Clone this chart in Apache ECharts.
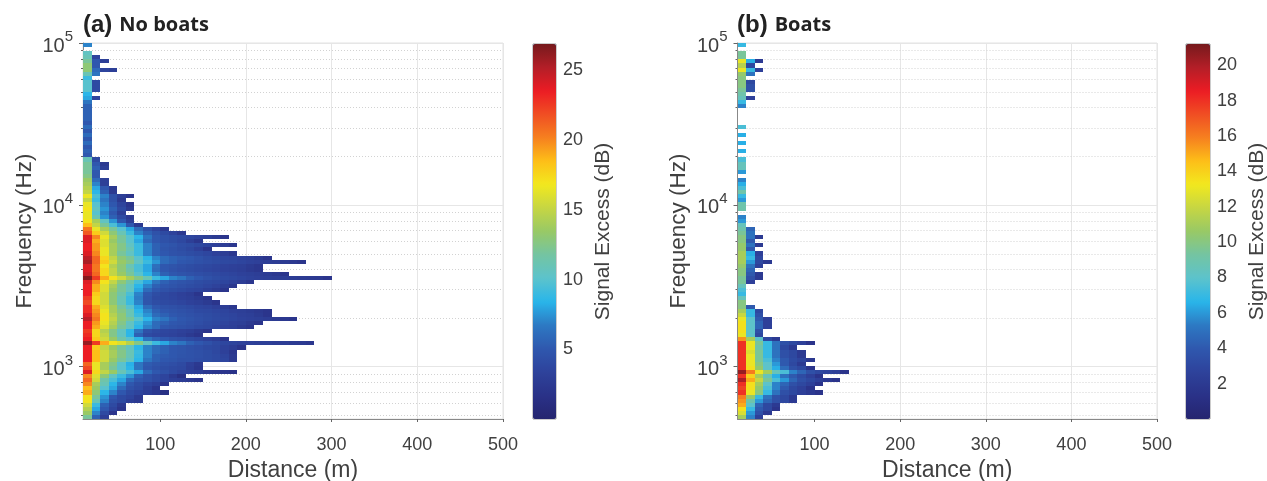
<!DOCTYPE html>
<html><head><meta charset="utf-8">
<style>html,body{margin:0;padding:0;background:#fff}#c{width:1267px;height:481px}</style>
<script src="https://cdn.jsdelivr.net/npm/echarts@6/dist/echarts.min.js"></script>
</head><body><div id="c"></div>
<script>
const rowEdgesHz = [475,503,534,566,599,635,673,714,756,802,849,900,
954,1011,1072,1136,1204,1276,1353,1433,1519,1610,1707,1809,
1917,2032,2153,2283,2419,2564,2717,2880,3052,3235,3429,3634,
3852,4082,4326,4586,4860,5151,5459,5786,6132,6499,6889,7301,
7739,8201,8692,9213,9764,10349,10968,11625,12320,13057,13841,14668,
15548,16476,17463,18509,19617,20792,22036,23356,24753,26233,27808,29470,
31237,33102,35085,37187,39412,41772,44271,46923,49731,52706,55870,59208,
62757,66505,70490,74714,79185,83923,88947,94278,100000];
const minorTicksHz = [500,600,700,800,900,2000,3000,4000,5000,6000,7000,8000,9000,20000,30000,40000,50000,60000,70000,80000,90000];
const distanceTicks = [100,200,300,400,500];
const noBoatsColorTicks = [5,10,15,20,25];
const boatsColorTicks = [2,4,6,8,10,12,14,16,18,20];
const colormap = ['#25256f','#2a3288','#2e429b','#2f58ae','#2d79c3','#29b5ea','#5cc3cc','#74c4a2','#98c966','#c6d643','#f2e81e','#fdbf18','#f6801f','#f04e23','#ec1c24','#b31e27','#761a1c'];
// each row: signal excess (dB) in 10 m distance bins starting at 10 m; bottom row first
const noBoatsRows = [
[12,5.5,3],
[13.5,7,4,2],
[14.5,8,5,3.5,2],
[15.5,9,5.5,4,2.5],
[17,11,7,4.5,4,3,2.5],
[17,12,7.5,5,4,3.5,2.5],
[19,13,8.5,7,5,4,3.5,3,2.5,1.5],
[18.5,13.5,10,8,6,4.5,4,3,2],
[20,14,11,8.5,7,5,4.2,3.5,3,2],
[21,15.5,11.5,9.5,8,6,5,4.5,4,3.5,3,2.8,2.5,2],
[20,16,13,10.5,9,7.5,5.5,4.5,4,3.5,2.5,1.5],
[24,17.5,15,13.5,11,9.5,8,6,5,4.5,4,3.5,3.3,3,2.5,2.2,2,1.8],
[22,16.5,14,12,10,8.5,6.5,5,4.5,4.2,4,3.8,3,2.2],
[21,16.5,14,12.5,10,8.3,6.5,5.2,4.8,4.5,4.3,4,3.2,2.4],
[23.5,18.5,15.5,13.5,12,10.5,8.5,6.5,5.5,5,4.8,4.5,4.5,4.3,4.2,4,3.7,2.5],
[23.5,18.5,15.5,14,12.5,11,8.8,7,5.5,5.2,5,4.7,4.6,4.4,4.2,4,3.5,2.5],
[23.5,18.5,15.5,14,12.5,11,9,7,6,5.5,5,4.8,4.6,4.4,4.2,3.8,3.2,2.2],
[23.5,18,15,13.5,12,10.5,8.5,7,6,5.5,5,4.8,4.5,4.3,4,3.8,3.3,2.8,2],
[26,22.5,19,17,16,14.5,12.5,10.5,9,8,7,6.5,5.5,5,4.5,4,3.7,3.5,3.3,3.2,3,3,2.8,2.8,2.6,2.5,2.2],
[23.5,18,15.5,13.5,11.5,10,8.5,6.5,5.5,5,4.5,4.3,4,3.7,3.3,2.8,2],
[23,17.5,15,12.5,10.5,8.5,5.5,4,3.7,3.5,3.4,3,2.5,2],
[22.5,17.5,14.5,12.5,10.5,8.5,6.5,4.5,4,3.7,3.5,3.3,3,2.5,2],
[23.5,19,16,14,12,10.5,8.5,7,6,5,4.7,4.5,4.3,4,3.8,3.5,3.2,3,2.5,2],
[23.5,19.5,16.5,14.5,12.5,10.5,9,7.5,6,5.5,5,4.8,4.5,4.3,4,3.8,3.5,3.2,3,2.5,2],
[25,20.5,17,15,13,12,10,8.5,7,6.5,5.5,5,4.7,4.4,4.2,4,3.8,3.6,3.4,3.2,3,2.8,2.6,2.3,2],
[24,20,17,14.5,13,11,9,7.5,6,5.5,5,4.7,4.5,4.3,4.1,3.9,3.7,3.5,3.2,3,2.6,2],
[23,19.5,16.5,14,12.5,11,8.5,7,5.5,5,4.7,4.5,4.3,4,3.9,3.7,3.5,3.2,3,2.7,2.4,2],
[23,19,16,14,12,10,8,6,5,4.6,4.4,4.2,4,3.7,3.5,3.2,2.8,2.2],
[22,17.5,15.5,13,11,9,7,4.8,4.2,4,3.8,3.6,3.3,3,2.6,2],
[22.5,17.5,15.5,13,11,9,6.8,4.8,4,3.8,3.6,3.3,3,2.6,2],
[23.5,18,15.5,13,11.5,9.5,7,5,4.2,3.8,3.5,3.2,2.8,2],
[23.5,19,16,13.5,12,10.5,8,6,5,4.5,4.2,4,3.7,3.5,3,2.6,2],
[23.5,19,16,14,12,10.5,8.5,7,5.5,5,4.7,4.4,4.2,4,3.7,3.4,2.9,2.2],
[24,20,17,15,13,11.5,9.5,8,6.5,5.5,5,4.7,4.5,4.2,4,3.8,3.6,3.3,2.8,2.2],
[26.5,22.5,19,17,15.5,14,12.5,11,9,8,7,6.5,5.5,5,4.5,4.2,4,3.8,3.6,3.4,3.2,3,2.9,2.8,2.7,2.6,2.5,2.4,2],
[24.5,21,17.5,15,13.5,12,10,8.5,7,5.5,5,4.7,4.5,4.3,4.1,3.9,3.7,3.5,3.3,3.1,2.9,2.7,2.4,2],
[24,20.5,17.5,15,13,11.5,9.5,8,6,5,4.6,4.3,4.1,3.9,3.7,3.5,3.3,3.1,2.9,2.5,2.2],
[24,20.5,17,14.5,13,11,9.5,8,6.2,5,4.7,4.4,4.2,4,3.8,3.6,3.4,3.2,3,2.6,2.2],
[25.5,21,18,15.5,13.5,12.5,10.5,9,7.5,6,5.5,5,4.8,4.5,4.3,4.1,3.9,3.8,3.6,3.4,3.2,3,2.8,2.6,2.4,2],
[25,21,17.5,15,13,12,10,8.5,7,6,5.5,5.2,5,4.6,4.2,4,3.7,3.5,3.3,3,2.6,2],
[24,20,16.5,14,12,10.5,9,7,5.5,5,4.6,4.4,4.2,4,3.7,3.3,2.8,2.2],
[23.5,19.5,16.5,14,12.5,11,9,7,5.5,4.8,4.5,4.2,3.8,3.2,2],
[23.5,19.5,16,14,12.5,10.5,9,7,5.5,5,4.7,4.3,4.1,3.8,3.5,3.2,2.8,2.2],
[24,19,16,13.5,12,10,8,6,5,4.5,4.2,3.8,3,2.2],
[24,20,16.5,14,12,10,8.5,6.5,5,4.5,4.2,4,3.7,3.4,3,2.6,2],
[21.5,18,15.5,13,11,9,7,5.5,4.6,4,3.4,2.4],
[20.5,16.5,14,12,10,8,6,4.5,3.5,2.5],
[18.5,15,12,9.5,7.5,5,2.5],
[17,14,10.5,7.5,5,3],
[16.5,11,7.5,5.5,4,2.5],
[16.5,10,7,5,3],
[17,10.5,7.5,5.5,4,2.5],
[16.5,10,7,5,3.5,2],
[15,9,6.5,4.5,2.5],
[16.5,9.5,7,4.5,3,2],
[15,8.5,5.5,2.5],
[14.5,8,5,2.5],
[14,7,3],
[13.5,6,3],
[12.5,5],
[12,5],
[12,5.5,3],
[12,5,2.5],
[11,4],
[5],[5.5],[5],[6],[5],[6],[5],[6],[5],[5.5],[5.5],[5.5],[5.5],
[6.5],
[8,3.5],
[8.5],
[10,4],[10,4],[10,4],
[9],
[11,6.5],
[13,6,3.5,3],
[13,5],
[12,5,3],
[11,3.5],
[10.5],
[],
[7]
];
const boatsRows = [
[11,5.5,2.5],
[12.5,6,3.5,2],
[13.5,7,4,3,1.5],
[15,8,4.5,3,2],
[15.5,9,6,4.5,3.5,3,2],
[16,10.5,7,5,3.5,3,2],
[18,13,10,7,5,3.5,3,2.5,2,1.5],
[17.5,13.5,10.5,7.5,5.5,4,3,2.5,1.5],
[18,13.5,11,8,5.5,4.5,3.5,3,2.5,1.5],
[20,15,12,9.5,7.5,6,4.5,3.5,3,2.5,2,1.5],
[18,14,11,8.5,6.5,5,4,3.2,2.5,1.5],
[20.5,16,13,11,8.5,7.5,5.5,4.5,3.5,3,2.8,2.5,1.5],
[18,13.5,10.5,8,6.5,4.8,3.5,3,1.5],
[18,13,10,8,6,4,3,2],
[18,13,9.5,7.5,5.5,4,3.2,2.8,1.8],
[18,13,9.5,7,5,3.5,3,2],
[18,12.5,9.5,7,5,3.5,3,2],
[18,13,9,7,5,3,2],
[18,13,9.5,7,5,3.5,3,2.5,1.5],
[15.5,11,8,3,2],
[13,8,3],
[13.5,8,3.5],
[13.5,8,4.5,2.5],
[13.5,8,4.5,2.5],
[13,8,4,2.5],
[12,7,3.5],
[11,7,3],
[10,4],
[10],[8.5],[7],[7.5],[8.5],
[9.5,2.5],
[9.5,3.5,2],
[10,4,2],
[10,4.5],
[10.5,5,2.5],
[11,6,3,2],
[11,7,3],
[11,6.5,2.5],
[10.5,4],
[10.5,5,2],
[10,4],
[10,5,2],
[9.5,5],
[9,4.5],
[8.5],[6],[5.5],
[],
[9],[9],[6],[7],[9],[7.5],[6.5],[5.5],
[],
[6],[8.5],[8.5],[7.5],
[],[6.5],[],[6.5],[],[6.5],[],[7.5],
[],[],[],[],
[5.5],
[7],
[8.5,2.5],
[9],
[9.5,3.5],[10,3.5],[10,3],
[10],
[10.5,5],
[13,7,2.5],
[11.5,3],
[13,6.5,2],
[9.5],[9.5],
[],
[7]
];
const XMIN = 10, XMAX = 500, BIN = 10;
function cells(rows){
  const out = [];
  rows.forEach((r,i)=>r.forEach((v,j)=>{
    out.push([XMIN+j*BIN, XMIN+(j+1)*BIN, rowEdgesHz[i], rowEdgesHz[i+1], v]);
  }));
  return out;
}
const text = '#404040', font = 'Liberation Sans';
const renderCell = (p,api)=>{
  const a = api.coord([api.value(0),api.value(2)]), b = api.coord([api.value(1),api.value(3)]);
  const x0=Math.round(a[0]), x1=Math.round(b[0]), y0=Math.round(a[1]), y1=Math.round(b[1]);
  return {type:'rect',shape:{x:x0,y:y1,width:x1-x0,height:y0-y1},style:{fill:api.visual('color')}};
};
const renderMinor = (p,api)=>{
  const a = api.coord([XMIN,api.value(0)]), b = api.coord([XMAX,api.value(0)]);
  const y = Math.round(a[1])+0.5;
  return {type:'group',children:[
    {type:'line',shape:{x1:a[0],y1:y,x2:b[0],y2:y},style:{stroke:'#d2d2d2',lineWidth:1,lineDash:[1,2]}},
    {type:'line',shape:{x1:a[0]-2,y1:y,x2:a[0],y2:y},style:{stroke:'#666',lineWidth:1}}
  ]};
};
const expOf = v => { const e = Math.log10(v); return Math.abs(e-Math.round(e))<1e-6 ? Math.round(e) : null; };
function xAxis(i){return {type:'value',gridIndex:i,min:XMIN,max:XMAX,interval:BIN,
  name:'Distance (m)',nameLocation:'middle',nameGap:40,nameTextStyle:{fontFamily:font,fontSize:23,color:text},
  axisLine:{show:true,lineStyle:{color:'#888'}},axisTick:{show:true,length:3,lineStyle:{color:'#666'},customValues:distanceTicks},
  axisLabel:{fontFamily:font,fontSize:18,color:text,margin:17,customValues:distanceTicks,formatter:v=>String(v)},
  splitLine:{show:true,lineStyle:{color:'#e6e6e6'},customValues:distanceTicks,showMinLine:false}};}
function yAxis(i){return {type:'log',gridIndex:i,min:rowEdgesHz[0],max:rowEdgesHz[rowEdgesHz.length-1],logBase:10,
  name:'Frequency (Hz)',nameLocation:'middle',nameGap:47,nameTextStyle:{fontFamily:font,fontSize:22.5,color:text},
  axisLine:{show:true,lineStyle:{color:'#888'}},axisTick:{show:true,length:4,lineStyle:{color:'#666'}},
  axisLabel:{fontFamily:font,color:text,margin:10,showMinLabel:false,
    formatter:v=>{const e=expOf(v);return e===null?'':'{b|10}{e|'+e+'}';},
    rich:{b:{fontSize:20,fontFamily:font,color:text,padding:[6,0,0,0]},e:{fontSize:15,fontFamily:font,color:text,padding:[0,0,12,0]}}},
  splitLine:{show:true,lineStyle:{color:'#e6e6e6'}}};}
function cbAxis(i,max,step,ticks){return {type:'value',gridIndex:i,position:'right',min:0,max:max,interval:step,
  name:'Signal Excess (dB)',nameLocation:'middle',nameGap:37,nameRotate:90,nameTextStyle:{fontFamily:font,fontSize:21,color:text},
  axisLine:{show:false},axisTick:{show:false},
  axisLabel:{fontFamily:font,fontSize:18,color:text,margin:7,customValues:ticks,formatter:v=>String(v)},
  splitLine:{show:false}};}
const titleRich = {a:{fontFamily:font,fontWeight:'bold',fontSize:24,color:'#222'},n:{fontFamily:'Open Sans',fontWeight:'bold',fontSize:20,color:'#222',padding:[0,0,0,2]}};
const gridBase = {outerBoundsMode:'none'};
const chart = echarts.init(document.getElementById('c'),null,{renderer:'canvas'});
chart.setOption({
  animation:false,backgroundColor:'#fff',
  title:[
    {text:'{a|(a)} {n|No boats}',left:78,top:8,textStyle:{rich:titleRich}},
    {text:'{a|(b)} {n|Boats}',left:732,top:8,textStyle:{rich:titleRich}}
  ],
  grid:[
    {...gridBase,left:83,top:43,width:420,height:376,show:true,borderColor:'#e2e2e2',borderWidth:1,backgroundColor:'transparent'},
    {...gridBase,left:737.5,top:43,width:419.5,height:376,show:true,borderColor:'#e2e2e2',borderWidth:1,backgroundColor:'transparent'},
    {...gridBase,left:533,top:44,width:23,height:375,show:true,borderColor:'#999',borderWidth:1,backgroundColor:'transparent'},
    {...gridBase,left:1186,top:44,width:24,height:375,show:true,borderColor:'#999',borderWidth:1,backgroundColor:'transparent'}
  ],
  xAxis:[xAxis(0),xAxis(1),
    {type:'value',gridIndex:2,show:false,min:0,max:1},{type:'value',gridIndex:3,show:false,min:0,max:1}],
  yAxis:[yAxis(0),yAxis(1),cbAxis(2,26.9,5,noBoatsColorTicks),cbAxis(3,21.2,2,boatsColorTicks)],
  visualMap:[
    {type:'continuous',seriesIndex:2,dimension:4,min:0,max:26.9,left:533,top:44,itemWidth:23,itemHeight:375,padding:0,z:3,calculable:false,hoverLink:false,showLabel:false,inRange:{color:colormap},outOfRange:{color:colormap[0]}},
    {type:'continuous',seriesIndex:3,dimension:4,min:0,max:21.2,left:1186,top:44,itemWidth:24,itemHeight:375,padding:0,z:3,calculable:false,hoverLink:false,showLabel:false,inRange:{color:colormap},outOfRange:{color:colormap[0]}}
  ],
  series:[
    {type:'custom',xAxisIndex:0,yAxisIndex:0,silent:true,z:1,data:minorTicksHz.map(f=>[f]),encode:{y:0},renderItem:renderMinor},
    {type:'custom',xAxisIndex:1,yAxisIndex:1,silent:true,z:1,data:minorTicksHz.map(f=>[f]),encode:{y:0},renderItem:renderMinor},
    {type:'custom',xAxisIndex:0,yAxisIndex:0,silent:true,z:2,data:cells(noBoatsRows),encode:{x:[0,1],y:[2,3]},renderItem:renderCell},
    {type:'custom',xAxisIndex:1,yAxisIndex:1,silent:true,z:2,data:cells(boatsRows),encode:{x:[0,1],y:[2,3]},renderItem:renderCell}
  ]
});
</script></body></html>
